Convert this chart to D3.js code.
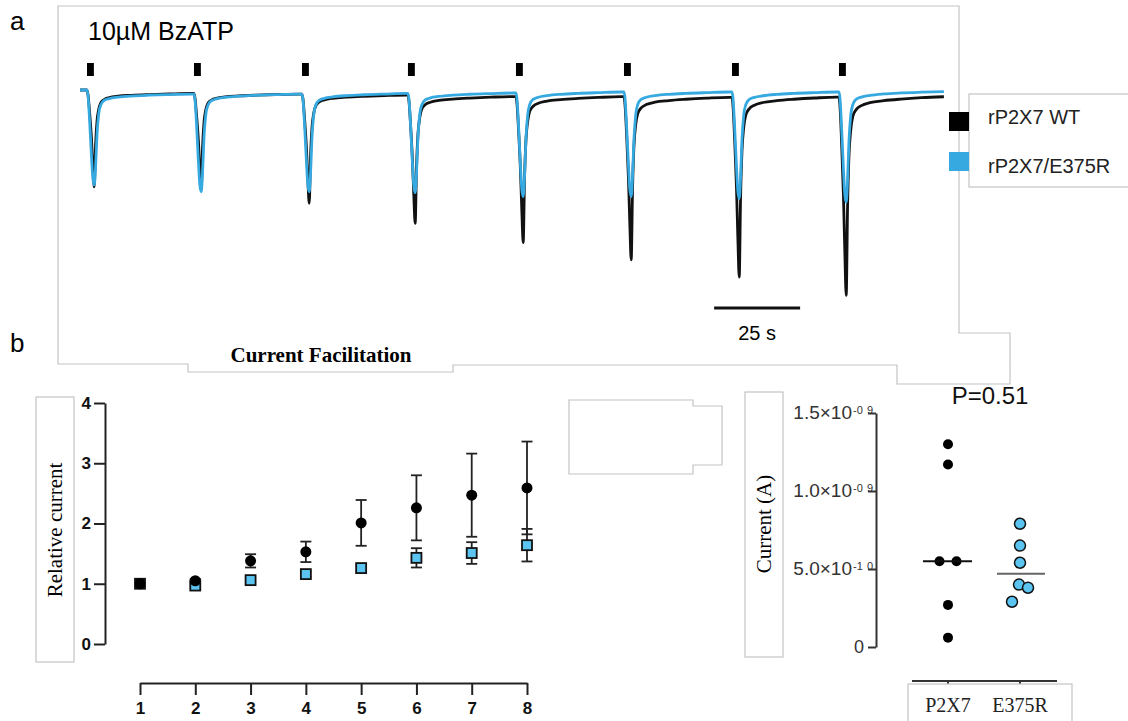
<!DOCTYPE html>
<html><head><meta charset="utf-8">
<script src="https://cdn.jsdelivr.net/npm/d3@7"></script>
<style>
html,body{margin:0;padding:0;background:#fff;}
svg{display:block;}
</style></head>
<body>
<svg id="fig" width="1128" height="721"></svg>
<script>
// ---------- DATA ----------
// Panel a: traces (arbitrary current units, negative = inward)
const stimOnsets = [0, 31.1, 62.5, 93.3, 124.7, 156.1, 187.5, 218.6]; // s
const stimDuration = 2; // s
const wtPeak  = [-1.01, -1.04, -1.18, -1.39, -1.59, -1.77, -1.95, -2.14];
const mutPeak = [-0.99, -1.06, -1.06, -1.07, -1.11, -1.11, -1.13, -1.17];
const wtRest  = [-0.036, -0.042, -0.052, -0.068, -0.07, -0.076, -0.074, -0.07];
const mutRest = [-0.042, -0.042, -0.036, -0.031, -0.021, -0.021, -0.021, -0.016];
// response template: time after stimulus onset (s) and fraction of peak
const shapeTime = [0, 0.3, 0.8, 1.3, 1.7, 2.1, 2.5, 2.9, 3.4, 4.0, 5.0, 6.5, 9, 13, 18, 24, 30.5];
const wtShape   = [0, 0.05, 0.25, 0.5, 0.78, 1, 0.55, 0.3, 0.17, 0.1, 0.065, 0.045, 0.03, 0.02, 0.012, 0.005, 0];
const mutShape  = [0, 0.06, 0.35, 0.7, 0.93, 1, 0.8, 0.45, 0.22, 0.12, 0.07, 0.05, 0.035, 0.022, 0.013, 0.006, 0];
const scaleBarStart = 182.3, scaleBarLength = 25; // s
const legendLabels = ["rP2X7 WT", "rP2X7/E375R"];

// Panel b left: current facilitation
const pulses = [1, 2, 3, 4, 5, 6, 7, 8];
const wtMean  = [1.00, 1.05, 1.38, 1.53, 2.01, 2.26, 2.47, 2.59];
const wtSem   = [0, 0.03, 0.11, 0.17, 0.38, 0.54, 0.69, 0.77];
const mutMean = [1.00, 0.97, 1.06, 1.16, 1.26, 1.43, 1.51, 1.64];
const mutSem  = [0, 0.02, 0.03, 0.04, 0.05, 0.16, 0.18, 0.27];
const leftTicks = [0, 1, 2, 3, 4];

// Panel b right: current amplitude
const groups = ["P2X7", "E375R"];
const wtCurrent  = [1.30e-9, 1.17e-9, 0.55e-9, 0.55e-9, 0.27e-9, 0.06e-9];
const mutCurrent = [0.79e-9, 0.65e-9, 0.54e-9, 0.40e-9, 0.38e-9, 0.29e-9];
const rightTicks = [0, 5e-10, 1e-9, 1.5e-9];
const rightTickMantissa = ["0", "5.0\u00d710", "1.0\u00d710", "1.5\u00d710"];
const rightTickExponent = ["", "-1 0", "-0 9", "-0 9"];
const pValue = "P=0.51";

// ---------- DRAW ----------
const svg = d3.select("#fig");
const SANS = "'Liberation Sans', Arial, sans-serif";
const SERIF = "'Liberation Serif', 'Times New Roman', serif";
const BLUE = "#36a9e1", LIGHTBLUE = "#5bc4f1", BOX = "#c4c4c4";

// outlines (gray boxes)
svg.append("path").attr("d","M58,6 H959 V333 H1010 V384 H897 V365 H453 V372 H188 V364 H58 Z")
  .attr("fill","none").attr("stroke",BOX).attr("stroke-width",1.2);
svg.append("path").attr("d","M569,400 H693 V406 H722 V465 H693 V474 H569 Z")
  .attr("fill","none").attr("stroke",BOX).attr("stroke-width",1.2);

// panel letters
svg.append("text").attr("x",10).attr("y",30).attr("font-family",SANS).attr("font-size",26).text("a");
svg.append("text").attr("x",10).attr("y",352).attr("font-family",SANS).attr("font-size",26).text("b");

// ---------- Panel a ----------
const xT = d3.scaleLinear().domain([0, 250]).range([87, 947]);
const yT = d3.scaleLinear().domain([0, -2.2]).range([90, 301.2]);

svg.append("text").attr("x",88).attr("y",40).attr("font-family",SANS).attr("font-size",25).text("10\u00b5M BzATP");

svg.append("g").selectAll("rect").data(stimOnsets).join("rect")
  .attr("x", d => xT(d)).attr("width", d => xT(d + stimDuration) - xT(d))
  .attr("y", 63).attr("height", 13).attr("fill", "#000");

function buildTrace(peaks, rests, shape) {
  const pts = [{t: -2, v: 0}];
  const peakIdx = shape.indexOf(1);
  stimOnsets.forEach((on, k) => {
    const pre = k === 0 ? 0 : rests[k - 1];
    shapeTime.forEach((st, i) => {
      const base = i <= peakIdx ? pre : rests[k];
      pts.push({t: on + st, v: base + (peaks[k] - base) * shape[i]});
    });
  });
  return pts;
}
const traceLine = d3.line().x(d => xT(d.t)).y(d => yT(d.v)).curve(d3.curveMonotoneX);
svg.append("path").datum(buildTrace(wtPeak, wtRest, wtShape)).attr("d", traceLine)
  .attr("fill","none").attr("stroke","#111").attr("stroke-width",2.8).attr("stroke-linejoin","round");
svg.append("path").datum(buildTrace(mutPeak, mutRest, mutShape)).attr("d", traceLine)
  .attr("fill","none").attr("stroke",BLUE).attr("stroke-width",2.8).attr("stroke-linejoin","round");

// scale bar
svg.append("line").attr("x1", xT(scaleBarStart)).attr("x2", xT(scaleBarStart + scaleBarLength))
  .attr("y1", 308).attr("y2", 308).attr("stroke","#111").attr("stroke-width",3);
svg.append("text").attr("x", xT(scaleBarStart + scaleBarLength/2)).attr("y", 340)
  .attr("text-anchor","middle").attr("font-family",SANS).attr("font-size",20).text(scaleBarLength + " s");

// legend
svg.append("rect").attr("x",969).attr("y",94).attr("width",175).attr("height",93)
  .attr("fill","#fff").attr("stroke",BOX).attr("stroke-width",1.2);
const legColors = ["#000", BLUE];
legendLabels.forEach((lab, i) => {
  svg.append("rect").attr("x",949).attr("y", i === 0 ? 112 : 152).attr("width",20).attr("height",19).attr("fill",legColors[i]);
  svg.append("text").attr("x",988).attr("y", i === 0 ? 124 : 173).attr("font-family",SANS).attr("font-size",20).attr("fill","#222").text(lab);
});

// ---------- Panel b left ----------
svg.append("text").attr("x",321).attr("y",362).attr("text-anchor","middle")
  .attr("font-family",SERIF).attr("font-weight","bold").attr("font-size",21).text("Current Facilitation");

// y label box
svg.append("rect").attr("x",36).attr("y",397).attr("width",38).attr("height",265)
  .attr("fill","#fff").attr("stroke",BOX).attr("stroke-width",1.2);
svg.append("text").attr("transform","translate(62,530) rotate(-90)").attr("text-anchor","middle")
  .attr("font-family",SERIF).attr("font-size",21).text("Relative current");

const xL = d3.scaleLinear().domain([1, 8]).range([140, 527]);
const yL = d3.scaleLinear().domain([0, 4]).range([644, 403]);

const gyL = svg.append("g").attr("transform","translate(105,0)")
  .call(d3.axisLeft(yL).tickValues(leftTicks).tickSize(11).tickSizeOuter(0).tickPadding(3).tickFormat(d3.format("d")));
const gxL = svg.append("g").attr("transform","translate(0,683)")
  .call(d3.axisBottom(xL).tickValues(pulses).tickSize(12).tickSizeOuter(0).tickPadding(7).tickFormat(d3.format("d")));
[gyL, gxL].forEach(g => {
  g.selectAll("path,line").attr("stroke","#222").attr("stroke-width",2);
  g.selectAll("text").attr("font-family",SANS).attr("font-weight","bold").attr("font-size",17).attr("fill","#111");
});

// error bars
function errBars(mean, sem) {
  const g = svg.append("g").attr("stroke","#222").attr("stroke-width",1.8);
  pulses.forEach((p, i) => {
    if (sem[i] <= 0) return;
    const x = xL(p), y1 = yL(mean[i] + sem[i]), y2 = yL(mean[i] - sem[i]);
    g.append("line").attr("x1",x).attr("x2",x).attr("y1",y1).attr("y2",y2);
    g.append("line").attr("x1",x-5.5).attr("x2",x+5.5).attr("y1",y1).attr("y2",y1);
    g.append("line").attr("x1",x-5.5).attr("x2",x+5.5).attr("y1",y2).attr("y2",y2);
  });
}
errBars(wtMean, wtSem);
errBars(mutMean, mutSem);
svg.append("g").selectAll("rect").data(pulses).join("rect")
  .attr("x", (d) => xL(d) - 5).attr("y", (d, i) => yL(mutMean[i]) - 5)
  .attr("width", 10).attr("height", 10)
  .attr("fill", (d, i) => i === 0 ? "#000" : LIGHTBLUE).attr("stroke","#111").attr("stroke-width",1.8);
svg.append("g").selectAll("circle").data(pulses).join("circle")
  .attr("cx", d => xL(d)).attr("cy", (d, i) => yL(wtMean[i])).attr("r", 5.5).attr("fill","#000");

// ---------- Panel b right ----------
const xR = d3.scalePoint().domain(groups).range([948, 1020]);
const yR = d3.scaleLinear().domain([0, 1.5e-9]).range([647, 413]);

svg.append("text").attr("x",990).attr("y",404).attr("text-anchor","middle")
  .attr("font-family",SANS).attr("font-size",24).attr("fill","#111").text(pValue);

// y label box
svg.append("rect").attr("x",745).attr("y",392).attr("width",38).attr("height",265)
  .attr("fill","#fff").attr("stroke",BOX).attr("stroke-width",1.2);
svg.append("text").attr("transform","translate(771,524) rotate(-90)").attr("text-anchor","middle")
  .attr("font-family",SERIF).attr("font-size",21).text("Current (A)");

const gyR = svg.append("g").attr("transform","translate(876,0)")
  .call(d3.axisLeft(yR).tickValues(rightTicks).tickSize(8).tickSizeOuter(0).tickFormat(() => ""));
gyR.selectAll("path,line").attr("stroke","#333").attr("stroke-width",2);
rightTicks.forEach((v, i) => {
  const y = yR(v);
  if (i === 0) {
    svg.append("text").attr("x",864).attr("y",y+6).attr("text-anchor","end")
      .attr("font-family",SANS).attr("font-size",18).attr("fill","#333").text(rightTickMantissa[i]);
    return;
  }
  svg.append("text").attr("x",852).attr("y",y+6).attr("text-anchor","end")
    .attr("font-family",SANS).attr("font-size",19).attr("fill","#333").text(rightTickMantissa[i]);
  const parts = rightTickExponent[i].split(" ");
  svg.append("text").attr("x",853).attr("y",y+1).attr("font-family",SANS).attr("font-size",11).attr("fill","#333").text(parts[0]);
  svg.append("text").attr("x",867).attr("y",y+1).attr("font-family",SANS).attr("font-size",11).attr("fill","#333").text(parts[1]);
});

// x axis
const gxR = svg.append("g").attr("transform","translate(0,681)");
gxR.append("line").attr("x1",912).attr("x2",1057).attr("y1",0).attr("y2",0).attr("stroke","#333").attr("stroke-width",2);
groups.forEach(gname => gxR.append("line").attr("x1",xR(gname)).attr("x2",xR(gname)).attr("y1",0).attr("y2",5).attr("stroke","#333").attr("stroke-width",2));
svg.append("rect").attr("x",908).attr("y",684).attr("width",164).attr("height",50)
  .attr("fill","#fff").attr("stroke",BOX).attr("stroke-width",1.2);
groups.forEach(gname => svg.append("text").attr("x",xR(gname)).attr("y",712).attr("text-anchor","middle")
  .attr("font-family",SERIF).attr("font-size",20).attr("fill","#222").text(gname));

// scatter
const wtSpread = [0, 0, -8.5, 8.5, 0, 0];
const mutSpread = [0, 0, 0, -1, 8, -8];
svg.append("g").selectAll("circle").data(wtCurrent).join("circle")
  .attr("cx", (d, i) => xR("P2X7") + wtSpread[i]).attr("cy", d => yR(d)).attr("r", 5).attr("fill","#000");
svg.append("g").selectAll("circle").data(mutCurrent).join("circle")
  .attr("cx", (d, i) => xR("E375R") + mutSpread[i]).attr("cy", d => yR(d)).attr("r", 5.5)
  .attr("fill", LIGHTBLUE).attr("stroke","#111").attr("stroke-width",1.5);
// medians
const medW = d3.median(wtCurrent), medM = d3.median(mutCurrent);
svg.append("line").attr("x1",xR("P2X7")-25).attr("x2",xR("P2X7")+24).attr("y1",yR(medW)).attr("y2",yR(medW))
  .attr("stroke","#111").attr("stroke-width",2);
svg.append("line").attr("x1",xR("E375R")-23).attr("x2",xR("E375R")+25).attr("y1",yR(medM)).attr("y2",yR(medM))
  .attr("stroke","#666").attr("stroke-width",2);
</script>
</body></html>
